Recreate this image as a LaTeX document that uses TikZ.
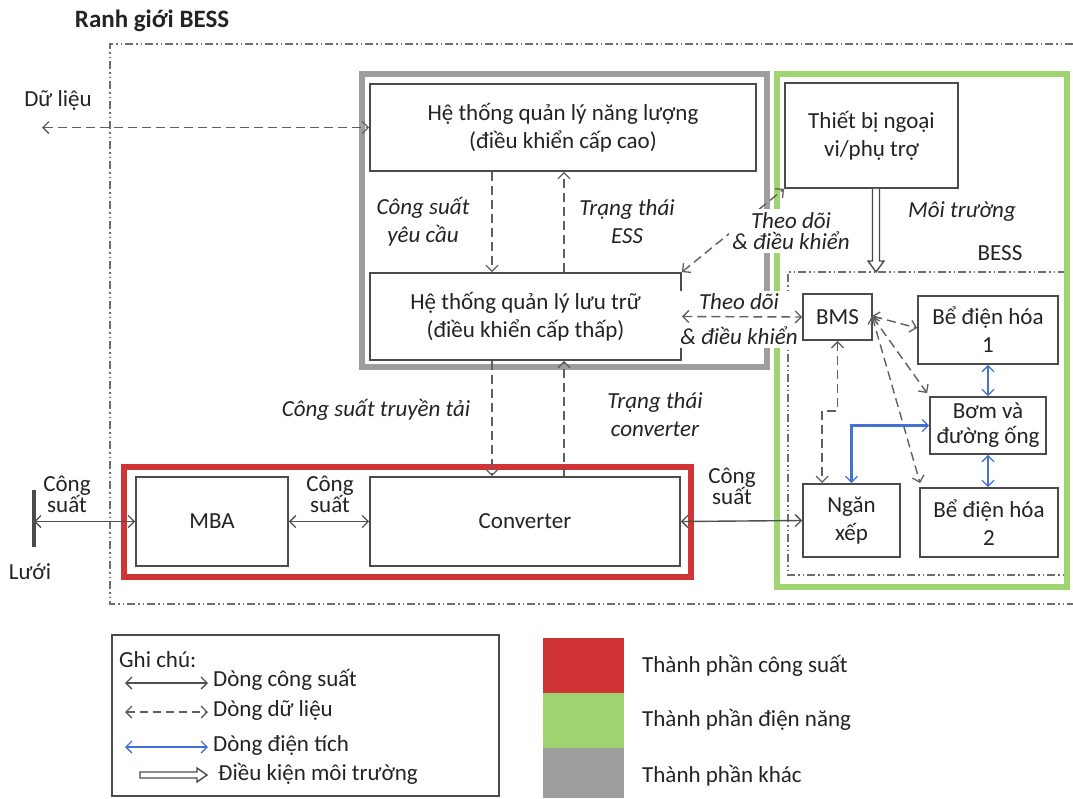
\documentclass[tikz,border=0pt]{standalone}
\usepackage{fontspec}
\setmainfont{Carlito}
\usetikzlibrary{arrows.meta,calc}
\definecolor{redc}{RGB}{208,52,54}
\definecolor{grnc}{RGB}{160,212,112}
\definecolor{gryc}{RGB}{158,158,158}
\definecolor{txt}{RGB}{35,35,35}
\definecolor{boxc}{RGB}{75,75,75}
\definecolor{pwc}{RGB}{80,80,80}
\definecolor{datac}{RGB}{95,95,95}
\definecolor{blu}{RGB}{68,114,210}
\definecolor{bndc}{RGB}{110,110,110}
\tikzset{
  tip/.tip={Straight Barb[length=6pt,width=12pt,line width=1.3pt]},
  base/.style={font=\fontsize{23}{28}\selectfont, text=txt},
  box/.style={base, draw=boxc, line width=1.8pt, fill=white, align=center, inner sep=2pt},
  lbl/.style={base, align=center, inner sep=1pt},
  ilbl/.style={lbl, font=\fontsize{23}{28}\selectfont\itshape},
  pw/.style={draw=pwc, line width=1.4pt, tip-tip},
  data/.style={draw=datac, line width=1.4pt, dash pattern=on 9pt off 5pt},
  chg/.style={draw=blu, line width=2.2pt, tip-tip},
  envar/.style={draw=boxc, line width=1.4pt, fill=white},
  bound/.style={draw=bndc, line width=1.6pt, dash pattern=on 8pt off 3pt on 1.5pt off 3pt on 1.5pt off 3pt},
  frame/.style={line width=6pt},
}
\begin{document}
\begin{tikzpicture}[x=1pt,y=-1pt]
\useasboundingbox (0,0) rectangle (1073,798);

% title
\node[base, font=\fontsize{25}{30}\selectfont\bfseries] (title) at (152,21) {Ranh giới BESS};

% boundaries
\draw[bound] (1073,44) -- (110,44) -- (110,604) -- (1073,604);
\draw[bound] (1066,272) -- (788,272) -- (788,575) -- (1066,575);
\coordinate (bessTL) at (788,272);

% frames
\draw[frame, draw=gryc] (362,74) rectangle (767,367);
\draw[frame, draw=grnc] (777,74) rectangle (1067,587);
\draw[frame, draw=redc] (124,467) rectangle (691,577);

% boxes
\node[box, minimum width=386, minimum height=87] (ems) at (563,127.5) {Hệ thống quản lý năng lượng\\(điều khiển cấp cao)};
\node[box, minimum width=311, minimum height=87] (sms) at (525.5,316.5) {Hệ thống quản lý lưu trữ\\(điều khiển cấp thấp)};
\node[box, minimum width=173, minimum height=105] (per) at (871.5,135.5) {Thiết bị ngoại\\vi/phụ trợ};
\node[box, minimum width=69, minimum height=46] (bms) at (837.5,317) {BMS};
\node[box, minimum width=140, minimum height=68] (be1) at (988,330) {Bể điện hóa\\1};
\node[box, minimum width=116, minimum height=57, font=\fontsize{23}{25}\selectfont] (bom) at (988,425.5) {Bơm và\\đường ống};
\node[box, minimum width=97, minimum height=73] (ngan) at (851.5,520.5) {Ngăn\\xếp};
\node[box, minimum width=138, minimum height=69] (be2) at (989,522.5) {Bể điện hóa\\2};
\node[box, minimum width=152, minimum height=89] (mba) at (212,521.5) {MBA};
\node[box, minimum width=310, minimum height=89] (conv) at (525,521.5) {Converter};

% grid
\node[fill=boxc, minimum width=3.5, minimum height=57, inner sep=0] (grid) at (34,518.5) {};
\node[lbl] (luoi) at (30,572) {Lưới};

% upper monitoring line (under its label)
\draw[data, tip-tip] (sms.north east) -- (per.south west);

% labels
\node[lbl] (dl) at (58,100) {Dữ liệu};
\node[ilbl] (csyc) at (423,222) {Công suất\\yêu cầu};
\node[ilbl] (ttess) at (627,222) {Trạng thái\\ESS};
\node[ilbl] (cstt) at (376,410) {Công suất truyền tải};
\node[ilbl] (ttconv) at (655,415) {Trạng thái\\converter};
\node[ilbl, fill=white, font=\fontsize{23}{21}\selectfont\itshape, inner sep=3pt] (td1) at (791,231) {Theo dõi\\\& điều khiển};
\node[ilbl, fill=white, inner sep=3pt] (td2) at (739,319.5) {Theo dõi\\[7pt]\& điều khiển};
\node[ilbl] (moi) at (962,212) {Môi trường};
\node[lbl] (bess) at (1000,253) {BESS};
\node[lbl] (cs1) at (67,494) {Công\\[-7pt]suất};
\node[lbl] (cs2) at (330,494) {Công\\[-7pt]suất};
\node[lbl] (cs3) at (732,486) {Công\\[-7pt]suất};

% data connectors
\coordinate (dlend) at (42,127.5);
\draw[data, tip-tip] (dlend) -- (ems.west);
\coordinate (xa) at (492,0);
\coordinate (xb) at (564,0);
\draw[data, -tip] (xa |- ems.south) -- (xa |- sms.north);
\draw[data, -tip] (xb |- sms.north) -- (xb |- ems.south);
\draw[data, -tip] (xa |- sms.south) -- (xa |- conv.north);
\draw[data, -tip] (xb |- conv.north) -- (xb |- sms.south);
\draw[data, tip-tip] (sms.east) -- (bms.west);
\coordinate (bmsr) at (872,316);
\draw[data, tip-tip] (bmsr) -- ($(be1.west)+(0,-2)$);
\draw[data, tip-tip] (bmsr) -- ($(bom.north west)+(-2,-3)$);
\draw[data, tip-tip] (bmsr) -- ($(be2.north west)+(1,-4)$);
\draw[data, tip-tip] (bms.south) -- ++(0,70) -| ($(ngan.north west)+(20,0)$);

% power connectors
\draw[pw] (grid.center |- mba.west) -- (mba.west);
\draw[pw] (mba.east) -- (conv.west);
\draw[pw] (conv.east) -- (ngan.west);

% charge connectors
\draw[chg] (be1.south) -- (be1.south |- bom.north);
\draw[chg] (bom.south) -- (bom.south |- be2.north);
\draw[chg] (bom.west) -| (ngan.north);

% environment arrow
\coordinate (envtop) at ($(per.south)+(4.5,0)$);
\coordinate (envbot) at (envtop |- bessTL);
\draw[envar] ($(envtop)+(-3.5,0)$) -- ($(envbot)+(-3.5,-11)$) -- ($(envbot)+(-8,-11)$) -- (envbot) -- ($(envbot)+(8,-11)$) -- ($(envbot)+(3.5,-11)$) -- ($(envtop)+(3.5,0)$);

% legend
\node[draw=boxc, line width=1.5pt, minimum width=387, minimum height=161, inner sep=0] (leg) at (305.5,715.5) {};
\node[lbl, anchor=west] (ghichu) at (118,660) {Ghi chú:};
\coordinate (l1a) at (125,683); \coordinate (l1b) at (208,683);
\coordinate (l2a) at (125,712); \coordinate (l2b) at (208,712);
\coordinate (l3a) at (125,747); \coordinate (l3b) at (208,747);
\coordinate (l4a) at (140,775); \coordinate (l4b) at (207,775);
\draw[pw] (l1a) -- (l1b);
\draw[data, dash pattern=on 8pt off 5pt, tip-tip] (l2a) -- (l2b);
\draw[chg, line width=1.6pt] (l3a) -- (l3b);
\draw[envar] ($(l4a)+(0,-3)$) -- ($(l4b)+(-10,-3)$) -- ($(l4b)+(-10,-7)$) -- (l4b) -- ($(l4b)+(-10,7)$) -- ($(l4b)+(-10,3)$) -- ($(l4a)+(0,3)$) -- cycle;
\node[lbl, anchor=west] (t1) at (212,680) {Dòng công suất};
\node[lbl, anchor=west] (t2) at (212,710) {Dòng dữ liệu};
\node[lbl, anchor=west] (t3) at (212,745) {Dòng điện tích};
\node[lbl, anchor=west] (t4) at (217,774) {Điều kiện môi trường};

% colour legend
\fill[redc] (543,638) rectangle (624,693);
\fill[grnc] (543,693) rectangle (624,748);
\fill[gryc] (543,748) rectangle (624,798);
\node[lbl, anchor=west] (c1) at (641,666) {Thành phần công suất};
\node[lbl, anchor=west] (c2) at (641,720) {Thành phần điện năng};
\node[lbl, anchor=west] (c3) at (641,776) {Thành phần khác};
\end{tikzpicture}
\end{document}
